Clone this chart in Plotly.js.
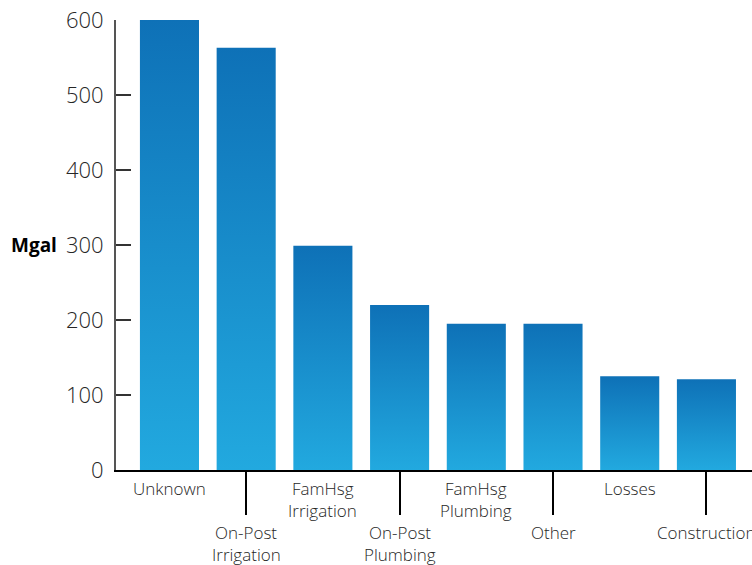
<!DOCTYPE html>
<html>
<head>
<meta charset="utf-8">
<script src="https://cdn.plot.ly/plotly-3.0.1.min.js"></script>
<style>
  html, body { margin: 0; padding: 0; background: #fff; }
  #chart { width: 752px; height: 565px; }
</style>
</head>
<body>
<div id="chart"></div>
<script>
// Water use by category, in million gallons
const categories = ['Unknown', 'On-Post Irrigation', 'FamHsg Irrigation', 'On-Post Plumbing',
                    'FamHsg Plumbing', 'Other', 'Losses', 'Construction'];
const volumesMgal = [600, 563, 299, 220, 195, 195, 125, 121];
const yTicks = [0, 100, 200, 300, 400, 500, 600];
const yAxisLabel = 'Mgal';

const FONT = '"Open Sans", "DejaVu Sans", sans-serif';

// Category labels alternate between an upper and a lower row;
// the lower row hangs from a long tick mark.
const lowerRow = categories.filter((c, i) => i % 2 === 1);

const annotations = [];
categories.forEach((cat, i) => {
  const row = i % 2;
  cat.split(' ').forEach((line, j) => {
    annotations.push({
      x: i, xref: 'x', y: 0, yref: 'paper',
      text: line, showarrow: false,
      xanchor: 'center', yanchor: 'middle',
      yshift: -(18 + row * 44 + j * 22),
      font: { family: FONT, size: 17, color: '#262626', weight: 300 }
    });
  });
});
annotations.push({
  x: 0, xref: 'paper', y: 300, yref: 'y',
  text: '<b>' + yAxisLabel + '</b>', showarrow: false,
  xanchor: 'right', yanchor: 'middle', xshift: -57,
  font: { family: FONT, size: 19, color: '#000' }
});

const trace = {
  type: 'bar',
  x: categories,
  y: volumesMgal,
  width: 0.77,
  marker: { color: '#1888c8', line: { width: 0 } },
  hoverinfo: 'x+y'
};

const layout = {
  width: 752, height: 565,
  margin: { l: 116, r: 0, t: 20, b: 95, pad: 0 },
  paper_bgcolor: '#fff', plot_bgcolor: '#fff',
  showlegend: false,
  bargap: 0.23,
  xaxis: {
    type: 'category',
    range: [-0.697, 7.594],
    showline: true, linecolor: '#000', linewidth: 2,
    showgrid: false, zeroline: false,
    tickmode: 'array', tickvals: lowerRow,
    ticks: 'outside', ticklen: 43, tickwidth: 2, tickcolor: '#000',
    showticklabels: false
  },
  yaxis: {
    range: [0, 600],
    showline: true, linecolor: '#555', linewidth: 2,
    showgrid: false, zeroline: false,
    tickmode: 'array', tickvals: yTicks,
    ticks: 'inside', ticklen: 15, tickwidth: 2, tickcolor: '#333',
    ticklabelstandoff: 6,
    tickfont: { family: FONT, size: 22, color: '#262626', weight: 300 }
  },
  annotations: annotations
};

Plotly.newPlot('chart', [trace], layout, { staticPlot: true, displayModeBar: false }).then(gd => {
  // Per-bar vertical gradient: dark blue at the top, light blue at the base
  const svg = gd.querySelector('svg.main-svg');
  const ns = 'http://www.w3.org/2000/svg';
  let defs = svg.querySelector('defs');
  if (!defs) { defs = document.createElementNS(ns, 'defs'); svg.insertBefore(defs, svg.firstChild); }
  const grad = document.createElementNS(ns, 'linearGradient');
  grad.setAttribute('id', 'barGradient');
  grad.setAttribute('x1', '0'); grad.setAttribute('y1', '0');
  grad.setAttribute('x2', '0'); grad.setAttribute('y2', '1');
  [['0', '#0e71b7'], ['1', '#22a9df']].forEach(([off, col]) => {
    const s = document.createElementNS(ns, 'stop');
    s.setAttribute('offset', off);
    s.setAttribute('stop-color', col);
    grad.appendChild(s);
  });
  defs.appendChild(grad);
  gd.querySelectorAll('.trace.bars .point path').forEach(p => {
    p.style.fill = 'url(#barGradient)';
  });
});
</script>
</body>
</html>
